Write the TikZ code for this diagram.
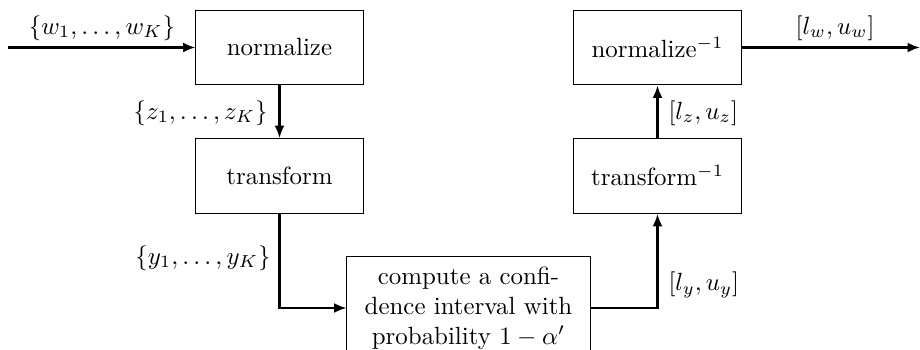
\documentclass[tikz,border=0pt]{standalone}
\usetikzlibrary{arrows.meta}
\begin{document}
\begin{tikzpicture}[x=0.4016pt,y=-0.4016pt,
  blk/.style={draw,line width=0.4pt,minimum width=67.1pt,minimum height=30.1pt,inner sep=0pt},
  flow/.style={line width=0.85pt,-{Latex[length=5pt,width=4pt]}},
  lbl/.style={inner sep=0pt}]
\useasboundingbox (0,0) rectangle (920,350);
\begin{scope}
\clip (0,0) rectangle (920,350);
\node[blk] (norm) at (279.5,47.5) {normalize};
\node[blk] (trans) at (279.5,176) {transform};
\node[blk] (itrans) at (657.5,176) {transform$^{-1}$};
\node[blk] (inorm) at (657.5,47.5) {normalize$^{-1}$};
\node[blk,minimum width=97.6pt,minimum height=41pt,align=center] (ci) at (468.5,308)
  {compute a confi-\\dence interval with\\probability $1-\alpha'$};
\coordinate (in) at (8,47.5);
\coordinate (out) at (920,47.5);
\draw[flow] (in) -- (norm);
\draw[flow] (norm) -- (trans);
\draw[flow] (trans.south) |- (ci.west);
\draw[flow] (ci.east) -| (itrans.south);
\draw[flow] (itrans) -- (inorm);
\draw[flow] (inorm) -- (out);
\node[lbl] (lw) at (102,28) {$\{w_1,\ldots,w_K\}$};
\node[lbl,anchor=east] (lz) at (268,113) {$\{z_1,\ldots,z_K\}$};
\node[lbl,anchor=east] (ly) at (271,258) {$\{y_1,\ldots,y_K\}$};
\node[lbl,anchor=west] (lly) at (668,285) {$[l_y,u_y]$};
\node[lbl,anchor=west] (llz) at (668,113) {$[l_z,u_z]$};
\node[lbl] (llw) at (835,28) {$[l_w,u_w]$};
\end{scope}
\end{tikzpicture}
\end{document}
